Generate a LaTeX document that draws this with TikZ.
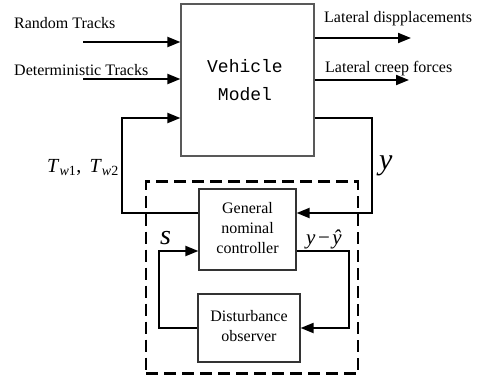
\documentclass[tikz,border=0pt]{standalone}
\usepackage{fontspec}
\setmainfont{Liberation Serif}
\newfontfamily\monof{Liberation Mono}
\usetikzlibrary{arrows.meta}
\begin{document}
\begin{tikzpicture}[x=1pt,y=-1pt,
  conn/.style={line width=2pt},
  arr/.style={conn,-{Triangle[length=13pt,width=10pt]}},
  blk/.style={draw=black!65,line width=1.2pt,fill=none,inner sep=0pt},
  lab/.style={font=\fontsize{16}{20}\selectfont,inner sep=0pt,anchor=base west},
  ctext/.style={font=\fontsize{16}{20}\selectfont,align=center,inner sep=0pt}]
\useasboundingbox (0,0) rectangle (480,380);
% blocks
\node[blk,minimum width=133pt,minimum height=152pt] (veh) at (247.5,80) {};
\node[font=\monof\fontsize{18}{28}\selectfont,align=center,inner sep=0pt] (vehtxt) at (245,80) {Vehicle\\Model};
\node[blk,draw=black!80,minimum width=97pt,minimum height=81pt] (ctl) at (247.5,229.5) {};
\node[ctext] (ctltxt) at (247.5,228) {General\\nominal\\controller};
\node[blk,draw=black!80,minimum width=102pt,minimum height=68pt] (obs) at (249,328) {};
\node[ctext] (obstxt) at (249,326) {Disturbance\\observer};
% dashed frame
\node[draw,line width=2.8pt,dash pattern=on 12pt off 6pt,minimum width=212pt,minimum height=192pt,inner sep=0pt] (frame) at (252,277.5) {};
% coordinates
\coordinate (rt) at (83,42);
\coordinate (dt) at (83,79);
\coordinate (ld) at (411,38);
\coordinate (lc) at (409,80);
\coordinate (tl) at (122,213);
\coordinate (tr) at (372,118);
\coordinate (il) at (159,251);
\coordinate (ir) at (349,328);
% inputs
\draw[arr] (rt) -- (veh.west |- rt);
\draw[arr] (dt) -- (veh.west |- dt);
\draw[arr] (ld -| veh.east) -- (ld);
\draw[arr] (lc -| veh.east) -- (lc);
% outer loop
\draw[arr] (ctl.west |- tl) -- (tl) -- (tl |- tr) -- (veh.west |- tr);
\draw[arr] (veh.east |- tr) -- (tr) -- (tr |- tl) -- (ctl.east |- tl);
% inner loop
\draw[arr] (ctl.east |- il) -- (il -| ir) -- (ir) -- (obs.east |- ir);
\draw[arr] (obs.west |- ir) -- (il |- ir) -- (il) -- (ctl.west |- il);
% labels
\node[lab] (l1) at (14,28) {Random Tracks};
\node[lab] (l2) at (14,75) {Deterministic Tracks};
\node[lab] (l3) at (324,23) {Lateral dispplacements};
\node[lab] (l4) at (325,72) {Lateral creep forces};
\node[lab,font=\fontsize{20}{22}\selectfont] (tw) at (47,172) {\textit{T}\textsubscript{\textit{w}1}, \,\textit{T}\textsubscript{\textit{w}2}};
\node[lab,font=\fontsize{30}{30}\selectfont] (yl) at (379,169) {\textit{y}};
\node[lab,font=\fontsize{28}{30}\selectfont] (sl) at (160,244) {\textit{s}};
\node[lab,font=\fontsize{21}{24}\selectfont] (yy) at (306,244) {\textit{y}\kern2.5pt−\kern2.5pt\textit{\^{y}}};
\end{tikzpicture}
\end{document}
